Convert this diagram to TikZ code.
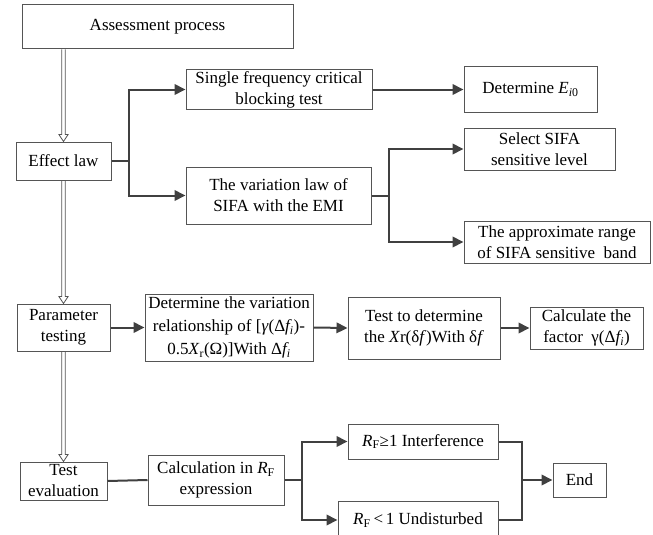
\documentclass[tikz,border=0pt]{standalone}
\usepackage{fontspec}
\setmainfont{Liberation Serif}
\usetikzlibrary{arrows.meta,calc}
\definecolor{boxc}{HTML}{555555}
\definecolor{linec}{HTML}{404040}
\newcommand\mydblarrow[2]{%
  \draw[dblc] ($(#1)+(-1.8,0)$) -- ($(#2)+(-1.8,-7)$) -- ($(#2)+(-4.6,-7)$) -- (#2)
    -- ($(#2)+(4.6,-7)$) -- ($(#2)+(1.8,-7)$) -- ($(#1)+(1.8,0)$);}
\begin{document}
\begin{tikzpicture}[x=1pt,y=-1pt,
  box/.style={draw=boxc, line width=1pt, inner sep=0pt, align=center, fill=white,
    font=\fontsize{17}{21}\selectfont},
  conn/.style={draw=linec, line width=2pt},
  arr/.style={conn, -{Triangle[length=11pt,width=10.5pt]}},
  dblc/.style={draw=boxc, line width=0.8pt, line join=miter}]
\useasboundingbox (0,0) rectangle (653,535);

\node[box, minimum width=271pt, minimum height=44pt] (assess) at (157.5,27) {Assessment process};
\node[box, minimum width=95pt, minimum height=38pt] (effect) at (63.5,161) {Effect law};
\node[box, minimum width=186pt, minimum height=39pt] (single) at (279,89.5) {Single frequency critical\\blocking test};
\node[box, minimum width=185pt, minimum height=57pt] (variation) at (278.5,195.5) {The variation law of\\SIFA with the EMI};
\node[box, minimum width=133pt, minimum height=45pt] (det) at (530.5,89.5) {Determine \textit{E}\textsubscript{\textit{i}0}};
\node[box, minimum width=151pt, minimum height=42pt] (select) at (539.5,149) {Select SIFA\\sensitive level};
\node[box, minimum width=186pt, minimum height=42pt] (approx) at (557,242) {The approximate range\\of SIFA sensitive\ \ band};

\node[box, minimum width=93pt, minimum height=47pt] (param) at (63.5,327.5) {Parameter\\testing};
\node[box, minimum width=168pt, minimum height=67pt, font=\fontsize{17}{23}\selectfont] (detvar) at (229,327.5)
  {Determine the variation\\relationship of [\textit{γ}(Δ\textit{f\textsubscript{i}})-\\0.5\textit{X}\textsubscript{r}(Ω)]With Δ\textit{f\textsubscript{i}}};
\node[box, minimum width=152pt, minimum height=62pt] (testdet) at (424,328) {Test to determine\\the \textit{X}r(δ\textit{f})With δ\textit{f}};
\node[box, minimum width=113pt, minimum height=42pt] (calcf) at (586.5,328) {Calculate the\\factor\ \ γ(Δ\textit{f\textsubscript{i}})};

\node[box, minimum width=87pt, minimum height=38pt] (testeval) at (63.5,481) {Test\\evaluation};
\node[box, minimum width=136pt, minimum height=50pt] (calcR) at (216,480) {Calculation in \textit{R}\textsubscript{F}\\expression};
\node[box, minimum width=150pt, minimum height=35pt] (interf) at (423,441.5) {\textit{R}\textsubscript{F}≥1 Interference};
\node[box, minimum width=160pt, minimum height=38pt] (undist) at (418,520) {\textit{R}\textsubscript{F}\,<\,1 Undisturbed};
\node[box, minimum width=53pt, minimum height=34pt] (end) at (579.5,480) {End};

% double arrows
\coordinate (d1a) at (assess.south -| effect.north);
\coordinate (d1b) at (effect.north);
\mydblarrow{d1a}{d1b}
\coordinate (d2a) at (effect.south);
\coordinate (d2b) at (param.north);
\mydblarrow{d2a}{d2b}
\coordinate (d3a) at (param.south);
\coordinate (d3b) at (testeval.north);
\mydblarrow{d3a}{d3b}

% effect law branches
\draw[conn] (effect.east) -- ++(17,0) coordinate (b1);
\draw[arr] (b1) |- (single.west);
\draw[arr] (b1) |- (variation.west);
\draw[arr] (single.east) -- (det.west);
\draw[conn] (variation.east) -- ++(17,0) coordinate (b2);
\draw[arr] (b2) |- (select.west);
\draw[arr] (b2) |- (approx.west);

% parameter row
\draw[arr] (param.east) -- (detvar.west);
\draw[arr] (detvar.east) -- (testdet.west);
\draw[arr] (testdet.east) -- (calcf.west);

% evaluation row
\draw[conn] (testeval.east) -- (calcR.west);
\draw[conn] (calcR.east) -- ++(17,0) coordinate (b3);
\draw[arr] (b3) |- (interf.west);
\draw[arr] (b3) |- (undist.west);
\coordinate (j) at ($(interf.east)+(23,0)$);
\draw[conn] (interf.east) -- (j) -- (j |- undist.east) -- (undist.east);
\draw[arr] (j |- end.west) -- (end.west);
\end{tikzpicture}
\end{document}
